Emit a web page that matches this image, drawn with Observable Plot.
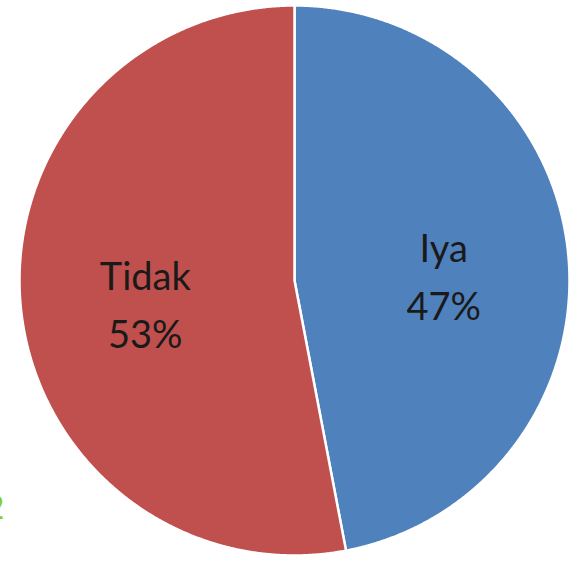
<!DOCTYPE html>
<html>
<head>
<meta charset="utf-8">
<script src="https://cdn.jsdelivr.net/npm/d3@7"></script>
<script src="https://cdn.jsdelivr.net/npm/@observablehq/plot@0.6"></script>
<style>
  html, body { margin: 0; padding: 0; background: #fff; }
  #chart svg { display: block; }
</style>
</head>
<body>
<div id="chart"></div>
<script>
const categories = ["Iya", "Tidak"];
const values = [47, 53];
const colors = ["#4F81BD", "#C0504D"];

const pie = d3.pie().sort(null).value(d => d.value);
const arcs = pie(categories.map((c, i) => ({category: c, value: values[i]})));

// polygon points for each slice (from library-computed angles)
const slicePts = [];
for (const a of arcs) {
  const n = Math.max(2, Math.ceil((a.endAngle - a.startAngle) / 0.005));
  slicePts.push({category: a.data.category, x: 0, y: 0});
  for (let k = 0; k <= n; k++) {
    const t = a.startAngle + (a.endAngle - a.startAngle) * k / n;
    slicePts.push({category: a.data.category, x: Math.sin(t), y: Math.cos(t)});
  }
  slicePts.push({category: a.data.category, x: 0, y: 0});
}

const labels = arcs.map(a => {
  const m = (a.startAngle + a.endAngle) / 2;
  const r = 0.545;
  return {
    x: r * Math.sin(m),
    y: r * Math.cos(m),
    text: a.data.category + "\n" + Math.round(a.data.value / d3.sum(values) * 100) + "%"
  };
});

const chart = Plot.plot({
  width: 569,
  height: 561,
  marginLeft: 19,
  marginRight: 0,
  marginTop: 5,
  marginBottom: 6,
  x: {domain: [-1, 1], axis: null},
  y: {domain: [-1, 1], axis: null},
  color: {domain: categories, range: colors},
  style: {fontFamily: "Lato, sans-serif", background: "#fff"},
  marks: [
    Plot.line(slicePts, {x: "x", y: "y", z: "category", fill: "category", stroke: "#ffffff", strokeWidth: 2.5, curve: "linear"}),
    Plot.text(labels, {x: "x", y: "y", text: "text", fontSize: 38, lineHeight: 1.52, fill: "#1a1a1a", dy: 6}),
    Plot.text(["2"], {x: -1.055, y: -0.83, text: d => d, fontSize: 32, fill: "#7ed321", textAnchor: "end"})
  ]
});
document.getElementById("chart").appendChild(chart);
</script>
</body>
</html>
